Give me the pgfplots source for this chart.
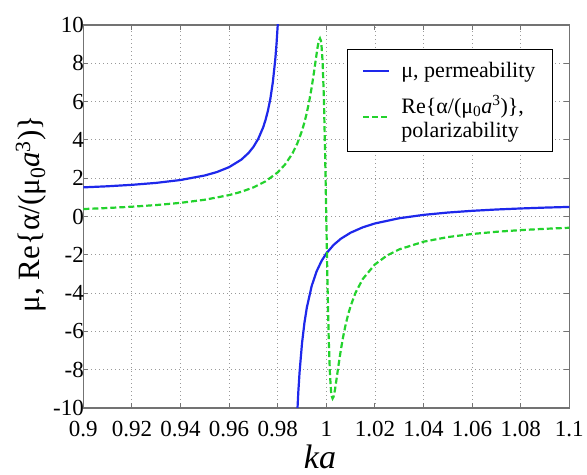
\documentclass[border=0pt]{standalone}
\usepackage{fontspec}
\setmainfont{Liberation Serif}
\usepackage{pgfplots}
\pgfplotsset{compat=1.18}
\usetikzlibrary{calc}

\definecolor{mublue}{RGB}{30,40,235}
\definecolor{algreen}{RGB}{35,210,45}
\definecolor{axgray}{RGB}{115,115,115}

\begin{document}
\begin{tikzpicture}
\begin{axis}[
  scale only axis,
  width=486pt, height=383pt,
  xmin=0.9, xmax=1.1, ymin=-10, ymax=10,
  xtick={0.9,0.92,0.94,0.96,0.98,1,1.02,1.04,1.06,1.08,1.1},
  xticklabels={0.9,0.92,0.94,0.96,0.98,1,1.02,1.04,1.06,1.08,1.1},
  ytick={-10,-8,-6,-4,-2,0,2,4,6,8,10},
  grid=major,
  grid style={gray!80, line width=0.8pt, dash pattern=on 1pt off 3pt},
  axis line style={axgray, line width=1.1pt},
  tick style={axgray, line width=0.9pt},
  tick align=inside,
  major tick length=5pt,
  /pgf/number format/assume math mode=true,
  ticklabel style={font=\fontsize{23}{26}\selectfont},
  xticklabel style={yshift=-10pt},
  yticklabel style={xshift=4pt},
  xlabel={\textit{ka}},
  xlabel style={font=\fontsize{34}{38}\selectfont, at={(axis description cs:0.487,-0.128)}, anchor=center},
  ylabel={μ, Re\{α/(μ\textsubscript{0}\textit{a}\textsuperscript{3})\}},
  ylabel style={font=\fontsize{31}{35}\selectfont, at={(axis description cs:-0.108,0.507)}, anchor=center},
  legend style={at={(0.9665,0.9373)}, anchor=north east, draw=black, line width=1.2pt,
    font=\fontsize{22}{24}\selectfont, inner xsep=15pt, inner ysep=11pt, row sep=12pt,
    column sep=9pt, cells={anchor=west, align=left, inner xsep=2pt, inner ysep=1pt}},
  legend image code/.code={\draw[#1] (0pt,0pt) -- (26pt,0pt);},
]
% mu, left branch
\addplot[mublue, line width=2.2pt] coordinates {
(0.9,1.521) (0.91,1.578) (0.92,1.653) (0.93,1.755) (0.94,1.905) (0.95,2.142)
(0.955,2.322) (0.96,2.577) (0.965,2.966) (0.968,3.317) (0.97,3.634) (0.972,4.056)
(0.974,4.648) (0.975,5.042) (0.976,5.536) (0.977,6.169) (0.978,7.015) (0.979,8.198)
(0.9795,8.987) (0.98,9.973) (0.9802,10.44)};
\addlegendentry{μ, permeability}
% mu, right branch
\addplot[mublue, line width=2.2pt, forget plot] coordinates {
(0.9879,-10.675) (0.988,-10.386) (0.9885,-9.133) (0.989,-8.131) (0.99,-6.628)
(0.991,-5.554) (0.992,-4.749) (0.994,-3.621) (0.996,-2.869) (0.998,-2.332)
(1.0,-1.93) (1.003,-1.485) (1.006,-1.161) (1.01,-0.846) (1.015,-0.566) (1.02,-0.364)
(1.03,-0.091) (1.04,0.084) (1.05,0.206) (1.06,0.296) (1.07,0.365) (1.08,0.419)
(1.09,0.464) (1.1,0.5)};
% polarizability
\addplot[algreen, line width=2.2pt, dash pattern=on 6pt off 3pt] coordinates {
(0.9,0.389) (0.91,0.443) (0.92,0.511) (0.93,0.598) (0.94,0.713) (0.95,0.875)
(0.96,1.117) (0.965,1.289) (0.97,1.518) (0.975,1.835) (0.98,2.304) (0.983,2.71)
(0.986,3.276) (0.988,3.791) (0.99,4.479) (0.991,4.913) (0.992,5.425) (0.993,6.034)
(0.994,6.755) (0.995,7.589) (0.996,8.479) (0.9965,8.903) (0.997,9.208) (0.9974,9.304)
(0.9978,9.174) (0.998,8.989) (0.9985,8.041) (0.999,6.202) (0.9995,3.388) (1.0,-0.1)
(1.0005,-3.588) (1.001,-6.402) (1.0015,-8.241) (1.002,-9.189) (1.0022,-9.374)
(1.0026,-9.504) (1.003,-9.408) (1.0035,-9.103) (1.004,-8.679) (1.005,-7.789)
(1.006,-6.955) (1.007,-6.234) (1.008,-5.625) (1.009,-5.113) (1.01,-4.679)
(1.012,-3.991) (1.015,-3.264) (1.02,-2.504) (1.025,-2.035) (1.03,-1.718)
(1.04,-1.317) (1.05,-1.075) (1.06,-0.914) (1.07,-0.798) (1.08,-0.711)
(1.09,-0.643) (1.1,-0.589)};
\addlegendentry{Re\{α/(μ\textsubscript{0}\textit{a}\textsuperscript{3})\},\\polarizability}
\end{axis}
\pgfresetboundingbox
\path[use as bounding box] ($(current axis.south west)+(-83.3pt,-67pt)$) rectangle ($(current axis.north east)+(17.7pt,25pt)$);
\end{tikzpicture}
\end{document}
